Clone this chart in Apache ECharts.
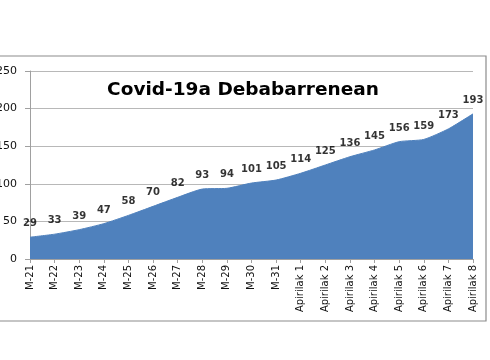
<!DOCTYPE html>
<html><head><meta charset="utf-8">
<script src="https://cdn.jsdelivr.net/npm/echarts@6/dist/echarts.min.js"></script>
<style>html,body{margin:0;padding:0;background:#fff}#c{width:490px;height:360px}</style>
</head><body><div id="c"></div>
<script>
var categories = ['M-21','M-22','M-23','M-24','M-25','M-26','M-27','M-28','M-29','M-30','M-31','Apirilak 1','Apirilak 2','Apirilak 3','Apirilak 4','Apirilak 5','Apirilak 6','Apirilak 7','Apirilak 8'];
var cases = [29,33,39,47,58,70,82,93,94,101,105,114,125,136,145,156,159,173,193];
var yTicks = [0,50,100,150,200,250];
var titleText = 'Covid-19a Debabarrenean';

var chart = echarts.init(document.getElementById('c'), null, {renderer:'canvas'});
chart.setOption({
  animation:false,
  backgroundColor:'#fff',
  title:{text:titleText,left:238,top:76,textAlign:'center',
    textStyle:{fontFamily:'DejaVu Sans',fontWeight:'bold',fontSize:18.5,color:'#000'}},
  graphic:[{type:'rect',shape:{x:-5,y:56,width:491,height:265},
    style:{fill:'none',stroke:'#8c8c8c',lineWidth:1.2},z:-1}],
  grid:{left:30,right:17,top:71,bottom:101,containLabel:false,outerBoundsMode:'none'},
  xAxis:{type:'category',data:categories,boundaryGap:false,
    axisLine:{lineStyle:{color:'#a0a0a0'}},
    axisTick:{show:true,alignWithLabel:true,length:4,lineStyle:{color:'#a0a0a0'}},
    axisLabel:{rotate:90,interval:0,fontFamily:'DejaVu Sans',fontSize:10,color:'#111',margin:6}},
  yAxis:{type:'value',min:yTicks[0],max:yTicks[yTicks.length-1],interval:50,
    axisLine:{show:true,lineStyle:{color:'#a0a0a0'}},
    axisTick:{show:true,length:5,lineStyle:{color:'#a0a0a0'}},
    splitLine:{lineStyle:{color:'#b8b8b8'}},
    axisLabel:{fontFamily:'DejaVu Sans',fontSize:11,color:'#111',margin:13}},
  series:[{type:'line',data:cases,symbol:'none',smooth:0.2,
    lineStyle:{color:'#4f81bd',width:1},
    areaStyle:{color:'#4f81bd',opacity:1}},
   {type:'scatter',data:cases,symbolSize:1,itemStyle:{color:'rgba(0,0,0,0)'},z:5,
    label:{show:true,position:'top',distance:8,fontFamily:'DejaVu Sans',fontWeight:'bold',fontSize:10,color:'#000'}}]
});
</script></body></html>
